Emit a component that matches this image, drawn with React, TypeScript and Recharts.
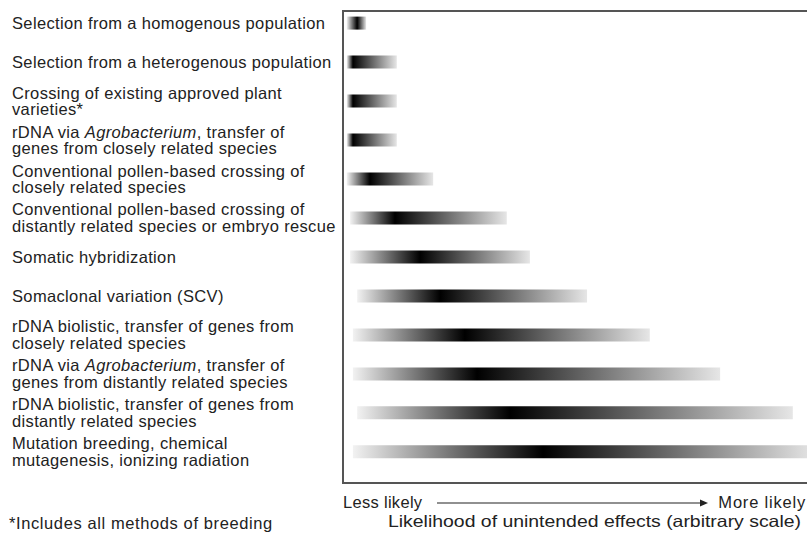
import { BarChart, Bar, XAxis, YAxis, Cell, ReferenceArea } from "recharts"

// breeding / modification methods, one row each (text between _ is italic)
const methods = [
  ["Selection from a homogenous population"],
  ["Selection from a heterogenous population"],
  ["Crossing of existing approved plant", "varieties*"],
  ["rDNA via _Agrobacterium_, transfer of", "genes from closely related species"],
  ["Conventional pollen-based crossing of", "closely related species"],
  ["Conventional pollen-based crossing of", "distantly related species or embryo rescue"],
  ["Somatic hybridization"],
  ["Somaclonal variation (SCV)"],
  ["rDNA biolistic, transfer of genes from", "closely related species"],
  ["rDNA via _Agrobacterium_, transfer of", "genes from distantly related species"],
  ["rDNA biolistic, transfer of genes from", "distantly related species"],
  ["Mutation breeding, chemical", "mutagenesis, ionizing radiation"],
]

// likelihood (arbitrary 0-100 scale): where each band starts, peaks and ends
const starts = [0.8, 0.8, 0.8, 0.8, 0.8, 1.5, 1.5, 3.0, 2.1, 2.1, 3.0, 2.1]
const peaks = [3.0, 2.1, 2.1, 2.1, 5.7, 11.0, 16.3, 20.6, 25.8, 28.4, 35.4, 42.4]
const ends = [4.9, 11.4, 11.4, 11.4, 19.1, 34.7, 39.6, 51.7, 65.0, 79.9, 95.3, 100]

const rows = methods.map((_, i) => i)
const data = rows.map((i) => ({ row: i, range: [starts[i], ends[i]] }))

const font = "'Liberation Sans', Arial, Helvetica, sans-serif"
const textColor = "#222"

function renderLine(line: string) {
  return line.split("_").map((part, k) => (
    <tspan key={k} fontStyle={k % 2 === 1 ? "italic" : "normal"}>
      {part}
    </tspan>
  ))
}

function MethodTick(props: any) {
  const { y, payload } = props
  const lines = methods[payload.value]
  if (!lines) return null
  return (
    <text x={12} y={y} fontSize={16.5} letterSpacing={0.35} fill={textColor} fontFamily={font} textAnchor="start">
      {lines.map((line, k) => (
        <tspan key={k} x={12} y={y + (k - (lines.length - 1) / 2) * 16.5} dy="0.35em">
          {renderLine(line)}
        </tspan>
      ))}
    </text>
  )
}

export default function App() {
  return (
    <div style={{ position: "absolute", left: 0, top: 0, width: 807, height: 535, overflow: "hidden", background: "#fff" }}>
      <BarChart
        width={815}
        height={535}
        data={data}
        layout="vertical"
        margin={{ top: 11, right: 0, bottom: 52, left: 0 }}
      >
        <defs>
          {rows.map((i) => {
            const p = (peaks[i] - starts[i]) / (ends[i] - starts[i])
            return (
              <linearGradient key={i} id={`band${i}`} x1="0" y1="0" x2="1" y2="0">
                <stop offset="0" stopColor="#f2f2f2" />
                <stop offset={p} stopColor="#000" />
                <stop offset="1" stopColor="#e6e6e6" />
              </linearGradient>
            )
          })}
        </defs>
        <XAxis type="number" domain={[0, 100]} hide />
        <YAxis
          type="number"
          dataKey="row"
          domain={[-0.31, 11.8]}
          ticks={rows}
          interval={0}
          width={343}
          axisLine={false}
          tickLine={false}
          tick={<MethodTick />}
        />
        <Bar dataKey="range" barSize={13} isAnimationActive={false}>
          {rows.map((i) => (
            <Cell key={i} fill={`url(#band${i})`} />
          ))}
        </Bar>
        <ReferenceArea x1={0} x2={100} fill="none" stroke="#555" strokeWidth={2} />
        <g fontFamily={font} fontSize={16.5} fill={textColor}>
          <text x={343} y={508} letterSpacing={0.3}>Less likely</text>
          <line x1={437} y1={503} x2={700} y2={503} stroke="#222" strokeWidth={1.2} />
          <polygon points="700,499.5 708,503 700,506.5" fill="#222" />
          <text x={806} y={508} textAnchor="end" letterSpacing={0.8}>More likely</text>
          <text x={388} y={527} textLength={413} lengthAdjust="spacingAndGlyphs">
            Likelihood of unintended effects (arbitrary scale)
          </text>
          <text x={9} y={529} letterSpacing={0.6}>*Includes all methods of breeding</text>
        </g>
      </BarChart>
    </div>
  )
}
